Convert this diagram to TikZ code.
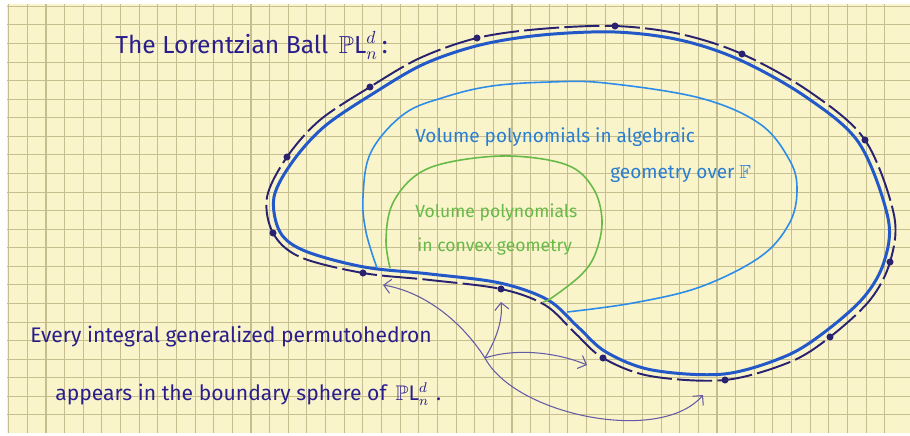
\documentclass[tikz,border=0pt]{standalone}
\usepackage{amsmath,amssymb}
\usepackage{fontspec}
\setmainfont{Fira Sans}
\usetikzlibrary{arrows.meta}
\definecolor{paper}{RGB}{249,244,202}
\definecolor{gridc}{RGB}{198,190,142}
\definecolor{ink}{RGB}{42,30,140}
\definecolor{bline}{RGB}{35,88,200}
\definecolor{dline}{RGB}{40,34,112}
\definecolor{lblue}{RGB}{45,140,232}
\definecolor{lgreen}{RGB}{104,186,72}
\definecolor{arrc}{RGB}{100,90,165}

\begin{document}
\begin{tikzpicture}[x=0.02cm, y=-0.02cm,
    txt/.style={anchor=base west, inner sep=0pt, font=\fontsize{12}{14}\selectfont, ink},
    btxt/.style={anchor=base west, inner sep=0pt, font=\fontsize{10.8}{12}\selectfont, lblue!90!black},
    gtxt/.style={anchor=base west, inner sep=0pt, font=\fontsize{10}{12}\selectfont, lgreen},
    dashline/.style={dline, line width=1.1pt, dash pattern=on 20pt off 3pt},
    dot/.style={circle, fill=dline, inner sep=0pt, minimum size=4pt},
    arr/.style={-{Straight Barb[length=4pt,width=8pt]}, arrc, line width=0.6pt},
  ]
    \useasboundingbox (0,0) rectangle (910,436);
    \fill[white] (0,0) rectangle (910,436);
    \fill[paper] (7,4) rectangle (910,433);
    % squared paper
    \foreach \k in {0,...,47}
      \draw[gridc, line width=0.6pt] (8.7+18.64*\k,4) -- (8.7+18.64*\k,433);
    \foreach \k in {0,...,22}
      \draw[gridc, line width=0.6pt] (7,6.4+18.57*\k) -- (910,6.4+18.57*\k);

    % points on the boundary sphere
    \coordinate (d1)  at (273,233);
    \coordinate (d2)  at (287,157);
    \coordinate (d3)  at (370,87);
    \coordinate (d4)  at (477,38);
    \coordinate (d5)  at (615,26);
    \coordinate (d6)  at (742,54);
    \coordinate (d7)  at (865,140);
    \coordinate (d8)  at (890,262);
    \coordinate (d9)  at (830,337);
    \coordinate (d10) at (725,380);
    \coordinate (d11) at (603,358);
    \coordinate (d12) at (501,289);
    \coordinate (d13) at (363,273);

    % the ball
    \draw[bline, line width=1.7pt] plot[smooth cycle, tension=0.55] coordinates {
      (274,197) (280,232) (305,251) (364,267) (430,274) (500,283) (548,300)
      (578,327) (606,352) (652,370) (724,374) (786,356) (826,331) (864,297)
      (884,262) (888,218) (859,143) (806,97) (740,60) (680,40) (615,32)
      (542,35) (480,45) (424,64) (374,93) (325,126) (293,161)};
    \draw[dashline] plot[smooth cycle, tension=0.55] coordinates {
      (267,197) (d1) (300,257) (d13) (430,280) (d12) (545,305) (575,333)
      (d11) (650,376) (d10) (790,362) (d9) (870,300) (d8) (894,215) (d7)
      (810,92) (d6) (680,34) (d5) (540,29) (d4) (420,58) (d3) (320,120) (d2)};
    \foreach \p in {d1,d2,d3,d4,d5,d6,d7,d8,d9,d10,d11,d12,d13}
      \node[dot] (n\p) at (\p) {};

    % algebraic and convex regions
    \draw[lblue, line width=0.9pt] plot[smooth, tension=0.6] coordinates {
      (377,268) (366,232) (363,197) (371,152) (404,114) (445,97) (492,86)
      (550,82) (605,83) (700,98) (760,124) (790,161) (797,191) (789,224)
      (760,257) (700,287) (633,303) (567,312)};
    \draw[lgreen, line width=0.9pt] plot[smooth, tension=0.6] coordinates {
      (390,268) (386,240) (392,205) (415,176) (450,162) (510,156) (567,165)
      (593,188) (602,220) (596,252) (582,274) (553,297) (543,302)};

    \node[txt, font=\fontsize{14}{16}\selectfont] (title) at (115,53)
      {The Lorentzian Ball \,$\mathbb{P}\mathrm{L}_n^d$\,:};
    \node[btxt] (blueA) at (415,142) {Volume polynomials in algebraic};
    \node[btxt] (blueB) at (610,178) {geometry over $\mathbb{F}$};
    \node[gtxt] (greenA) at (415,217) {Volume polynomials};
    \node[gtxt] (greenB) at (417,251) {in convex geometry};
    \node[txt] (noteA) at (30,342) {Every integral generalized permutohedron};
    \node[txt] (noteB) at (55,400)
      {appears in the boundary sphere of \,$\mathbb{P}\mathrm{L}_n^d$\,\,.};

    % arrows to the faces
    \coordinate (hub) at (485,358);
    \coordinate (t1) at (383,285);
    \coordinate (t2) at (501,302);
    \coordinate (t3) at (587,365);
    \coordinate (t4) at (703,395);
    \draw[arr] (hub) .. controls (462,322) and (425,292) .. (t1);
    \draw[arr] (hub) .. controls (496,340) and (503,320) .. (t2);
    \draw[arr] (hub) .. controls (515,348) and (556,352) .. (t3);
    \draw[arr] (hub) .. controls (515,415) and (660,445) .. (t4);
  \end{tikzpicture}
\end{document}
